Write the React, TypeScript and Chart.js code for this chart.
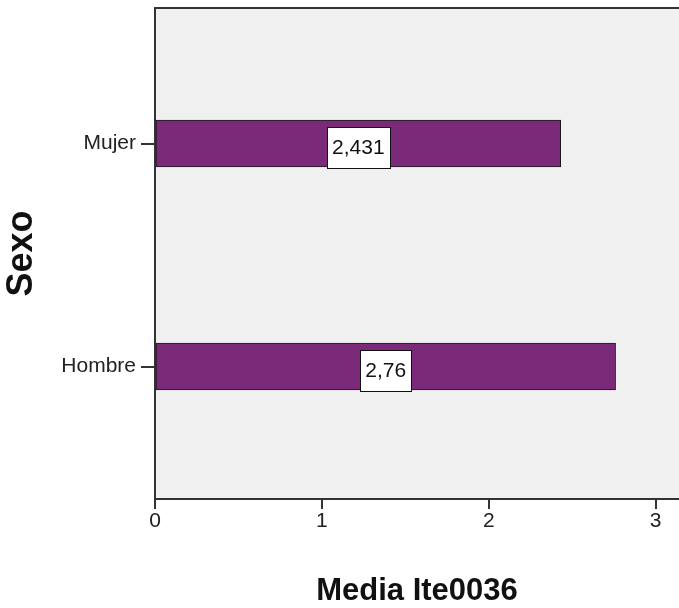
import { useEffect, useRef } from 'react';
import { Chart, registerables } from 'chart.js';

Chart.register(...registerables);

const categories = ['Mujer', 'Hombre'];
const meanValues = [2.431, 2.76];
const valueLabels = ['2,431', '2,76'];
const xTickValues = [0, 1, 2, 3];
const xTitle = 'Media Ite0036';
const yTitle = 'Sexo';

const FONT = "'Liberation Sans', Arial, sans-serif";

const plotDecor = {
  id: 'plotDecor',
  beforeDraw(chart: any) {
    const { ctx, chartArea } = chart;
    ctx.save();
    ctx.fillStyle = '#f0f0f0';
    ctx.fillRect(chartArea.left, chartArea.top, chartArea.right - chartArea.left, chartArea.bottom - chartArea.top);
    ctx.restore();
  },
  afterDraw(chart: any) {
    const { ctx, chartArea } = chart;
    ctx.save();
    ctx.strokeStyle = '#333333';
    ctx.lineWidth = 2;
    ctx.beginPath();
    ctx.moveTo(chartArea.left - 1, chartArea.top);
    ctx.lineTo(chartArea.right, chartArea.top);
    ctx.stroke();
    ctx.restore();
  },
};

const valueBoxes = {
  id: 'valueBoxes',
  afterDatasetsDraw(chart: any) {
    const { ctx } = chart;
    const meta = chart.getDatasetMeta(0);
    ctx.save();
    ctx.font = `21px ${FONT}`;
    meta.data.forEach((el: any, i: number) => {
      const { x, base, y } = el.getProps(['x', 'base', 'y'], true);
      const mid = (x + base) / 2;
      const text = valueLabels[i];
      const w = ctx.measureText(text).width + 10;
      const h = 41;
      const top = y - 17;
      ctx.fillStyle = '#ffffff';
      ctx.fillRect(Math.round(mid - w / 2), Math.round(top), Math.round(w), h);
      ctx.strokeStyle = '#111111';
      ctx.lineWidth = 1;
      ctx.strokeRect(Math.round(mid - w / 2) + 0.5, Math.round(top) + 0.5, Math.round(w), h);
      ctx.fillStyle = '#111111';
      ctx.textAlign = 'center';
      ctx.textBaseline = 'middle';
      ctx.fillText(text, mid, top + h / 2 + 1);
    });
    ctx.restore();
  },
};

export default function App() {
  const ref = useRef<HTMLCanvasElement | null>(null);
  useEffect(() => {
    if (!ref.current) return;
    const chart = new Chart(ref.current, {
      type: 'bar',
      data: {
        datasets: [
          {
            data: meanValues.map((v, i) => ({ x: v, y: i })),
            backgroundColor: '#7b2979',
            borderColor: '#1a1a1a',
            borderWidth: 1,
            borderSkipped: false,
            barThickness: 47,
          },
        ],
      },
      options: {
        indexAxis: 'y',
        animation: false,
        responsive: false,
        maintainAspectRatio: false,
        layout: { padding: { top: 8, left: 0, right: 0, bottom: 0 } },
        plugins: {
          legend: { display: false },
          tooltip: { enabled: false },
        },
        scales: {
          x: {
            type: 'linear',
            min: 0,
            max: 3.14,
            afterBuildTicks: (scale: any) => {
              scale.ticks = xTickValues.map((v) => ({ value: v }));
            },
            afterFit: (scale: any) => {
              scale.height = 109;
              scale.paddingLeft = 0;
              scale.paddingRight = 0;
            },
            grid: {
              drawOnChartArea: false,
              drawTicks: true,
              tickLength: 10,
              color: '#333333',
              lineWidth: 2,
            },
            border: { display: true, color: '#333333', width: 2 },
            ticks: {
              font: { family: FONT, size: 21 },
              color: '#222222',
              padding: 0,
              maxRotation: 0,
              callback: (v: any) => String(v),
            },
            title: {
              display: true,
              text: xTitle,
              font: { family: FONT, size: 31, weight: 'bold', lineHeight: 1 },
              color: '#111111',
              padding: { top: 0, bottom: 1 },
            },
          },
          y: {
            type: 'linear',
            reverse: true,
            offset: false,
            min: -0.6076,
            max: 1.594,
            afterBuildTicks: (scale: any) => {
              scale.ticks = categories.map((_, i) => ({ value: i }));
            },
            afterFit: (scale: any) => {
              scale.width = 155;
              scale.paddingTop = 0;
              scale.paddingBottom = 0;
            },
            grid: {
              offset: false,
              drawOnChartArea: false,
              drawTicks: true,
              tickLength: 14,
              color: '#333333',
              lineWidth: 2,
            },
            border: { display: true, color: '#333333', width: 2 },
            ticks: {
              font: { family: FONT, size: 21 },
              color: '#222222',
              padding: 5,
              callback: (v: any) => categories[v] ?? '',
            },
            title: {
              display: true,
              text: yTitle,
              font: { family: FONT, size: 36, weight: 'bold', lineHeight: 1 },
              color: '#111111',
              padding: { top: 4, bottom: 0 },
            },
          },
        },
      },
      plugins: [plotDecor, valueBoxes],
    });
    return () => chart.destroy();
  }, []);
  return (
    <div style={{ position: 'absolute', left: 0, top: 0, width: 679, height: 608 }}>
      <canvas ref={ref} width={679} height={608} style={{ display: 'block', width: 679, height: 608 }} />
    </div>
  );
}
